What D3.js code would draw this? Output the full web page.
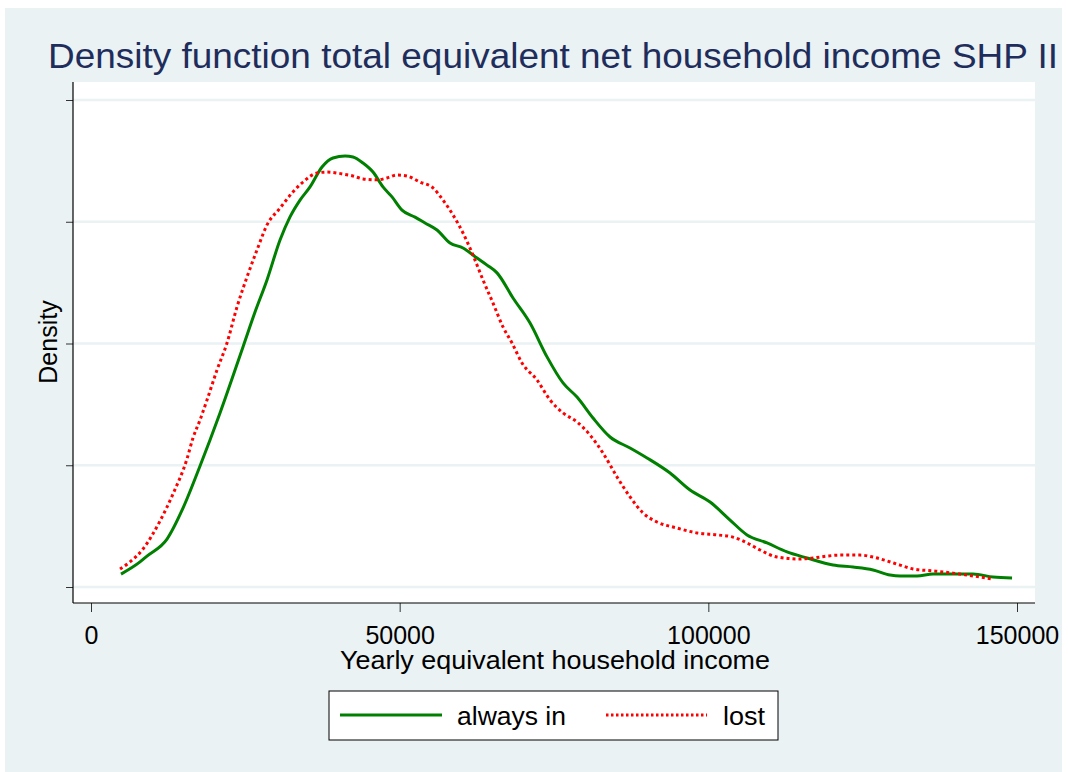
<!DOCTYPE html>
<html>
<head>
<meta charset="utf-8">
<script src="https://cdn.jsdelivr.net/npm/d3@7"></script>
<style>
  body { margin: 0; background: #fff; }
  text { font-family: "Liberation Sans", Arial, sans-serif; }
</style>
</head>
<body>
<svg width="1068" height="772"></svg>
<script>
// data (density in units of 1e-6)
var xTicks = [0, 50000, 100000, 150000];
var yTicks = [0, 5, 10, 15, 20];

var incomeAlways = [4860, 7940, 9070, 12310, 14900, 17660, 19280, 20900, 24620, 26570, 28510, 30620, 32240, 33860, 35480, 37420, 39200, 41150, 42440, 44060, 45680, 47300, 48760, 50380, 52490, 54110, 56050, 58160, 60260, 62530, 64150, 65770, 68360, 71120, 73870, 76460, 78730, 81320, 84080, 87320, 90070, 93800, 97040, 100280, 103520, 106270, 109510, 112750, 115990, 120200, 123440, 126680, 129440, 131060, 133810, 136400, 139640, 142880, 146120, 149200];
var densityAlways = [0.53, 1.03, 1.27, 1.97, 3.24, 4.97, 6.04, 7.15, 9.86, 11.29, 12.61, 14.25, 15.20, 15.89, 16.43, 17.25, 17.62, 17.70, 17.66, 17.41, 17.04, 16.43, 16.02, 15.48, 15.19, 14.95, 14.66, 14.13, 13.92, 13.51, 13.22, 12.90, 11.87, 10.84, 9.45, 8.38, 7.80, 6.94, 6.16, 5.71, 5.30, 4.68, 3.98, 3.49, 2.75, 2.14, 1.81, 1.44, 1.19, 0.90, 0.82, 0.70, 0.49, 0.45, 0.45, 0.53, 0.53, 0.53, 0.41, 0.37];

var incomeLost = [4700, 6320, 8420, 11180, 13280, 15550, 16520, 17660, 18790, 20410, 22030, 23650, 25270, 26890, 28510, 30620, 32560, 34340, 36610, 38230, 40820, 42440, 44060, 46330, 47950, 49570, 51190, 53300, 55400, 57020, 58640, 60260, 61880, 63500, 65120, 66740, 68200, 69820, 72250, 74360, 76460, 78730, 80840, 82940, 85210, 87320, 89420, 91690, 94930, 98170, 101410, 104000, 106270, 108380, 111130, 114860, 116960, 119230, 121340, 124580, 126680, 128950, 131060, 133160, 136400, 139640, 141910, 144020, 145960];
var densityLost = [0.74, 1.03, 1.56, 2.71, 3.82, 5.26, 6.12, 6.86, 7.68, 8.91, 10.02, 11.50, 12.73, 13.84, 14.87, 15.56, 16.18, 16.63, 17.00, 17.04, 16.96, 16.88, 16.76, 16.72, 16.80, 16.92, 16.88, 16.63, 16.39, 15.89, 15.28, 14.54, 13.63, 12.61, 11.66, 10.68, 10.02, 9.20, 8.50, 7.68, 7.15, 6.78, 6.24, 5.50, 4.52, 3.70, 3.04, 2.67, 2.42, 2.22, 2.14, 2.05, 1.81, 1.52, 1.23, 1.15, 1.19, 1.27, 1.31, 1.31, 1.23, 1.07, 0.90, 0.74, 0.66, 0.57, 0.49, 0.41, 0.33];

var seriesNames = ['always in', 'lost'];

var svg = d3.select('svg');

// plot box
var plotLeft = 73, plotRight = 1035, plotTop = 82, plotBottom = 603;

// graph region
svg.append('rect')
  .attr('x', 5).attr('y', 8)
  .attr('width', 1057).attr('height', 764)
  .attr('fill', '#eaf2f3');

svg.append('rect')
  .attr('x', plotLeft).attr('y', plotTop)
  .attr('width', plotRight - plotLeft).attr('height', plotBottom - plotTop)
  .attr('fill', '#fff');

var x = d3.scaleLinear().domain([0, 150000]).range([91, 1017]);
var y = d3.scaleLinear().domain([0, 20]).range([587, 100]);

// grid
svg.append('g').selectAll('line')
  .data(yTicks)
  .enter().append('line')
  .attr('x1', plotLeft).attr('x2', plotRight)
  .attr('y1', function(d){ return y(d); })
  .attr('y2', function(d){ return y(d); })
  .attr('stroke', '#eaf2f3')
  .attr('stroke-width', 2.5);

// axes
var yAxis = svg.append('g')
  .attr('transform', 'translate(' + plotLeft + ',0)')
  .call(d3.axisLeft(y).tickValues(yTicks).tickFormat('').tickSize(7).tickSizeOuter(0));
yAxis.select('.domain').remove();
yAxis.selectAll('line').attr('stroke', '#333');

var xAxis = svg.append('g')
  .attr('transform', 'translate(0,' + plotBottom + ')')
  .call(d3.axisBottom(x).tickValues(xTicks).tickFormat(d3.format('d')).tickSize(9).tickPadding(14).tickSizeOuter(0));
xAxis.select('.domain').remove();
xAxis.selectAll('line').attr('stroke', '#333');
xAxis.selectAll('text')
  .attr('fill', '#000')
  .style('font-size', '25px')
  .style('font-family', '"Liberation Sans", Arial, sans-serif');

svg.append('line')
  .attr('x1', plotLeft).attr('x2', plotLeft)
  .attr('y1', plotTop).attr('y2', plotBottom)
  .attr('stroke', '#000').attr('stroke-width', 1.2);
svg.append('line')
  .attr('x1', plotLeft).attr('x2', plotRight)
  .attr('y1', plotBottom).attr('y2', plotBottom)
  .attr('stroke', '#000').attr('stroke-width', 1.2);

// curves
var line = d3.line()
  .x(function(d){ return x(d[0]); })
  .y(function(d){ return y(d[1]); })
  .curve(d3.curveMonotoneX);

svg.append('path')
  .attr('d', line(d3.zip(incomeAlways, densityAlways)))
  .attr('fill', 'none')
  .attr('stroke', '#008000')
  .attr('stroke-width', 3);

svg.append('path')
  .attr('d', line(d3.zip(incomeLost, densityLost)))
  .attr('fill', 'none')
  .attr('stroke', '#ff0000')
  .attr('stroke-width', 3)
  .attr('stroke-dasharray', '3,3');

// titles
svg.append('text')
  .attr('x', 553).attr('y', 68)
  .attr('text-anchor', 'middle')
  .attr('textLength', 1010)
  .attr('lengthAdjust', 'spacingAndGlyphs')
  .attr('fill', '#1f2d5c')
  .style('font-size', '35px')
  .text('Density function total equivalent net household income SHP II');

svg.append('text')
  .attr('x', 555).attr('y', 669)
  .attr('text-anchor', 'middle')
  .attr('textLength', 430)
  .attr('lengthAdjust', 'spacingAndGlyphs')
  .style('font-size', '25px')
  .text('Yearly equivalent household income');

svg.append('text')
  .attr('transform', 'translate(57,342) rotate(-90)')
  .attr('text-anchor', 'middle')
  .style('font-size', '25px')
  .text('Density');

// legend
var legend = svg.append('g');
legend.append('rect')
  .attr('x', 329).attr('y', 691)
  .attr('width', 449).attr('height', 49)
  .attr('fill', '#fff')
  .attr('stroke', '#000')
  .attr('stroke-width', 1);

legend.append('line')
  .attr('x1', 340).attr('x2', 442).attr('y1', 715).attr('y2', 715)
  .attr('stroke', '#008000').attr('stroke-width', 3);
legend.append('text')
  .attr('x', 457).attr('y', 725)
  .attr('textLength', 109)
  .attr('lengthAdjust', 'spacingAndGlyphs')
  .style('font-size', '26px')
  .text(seriesNames[0]);

legend.append('line')
  .attr('x1', 606).attr('x2', 707).attr('y1', 715).attr('y2', 715)
  .attr('stroke', '#ff0000').attr('stroke-width', 3)
  .attr('stroke-dasharray', '2.5,2.5');
legend.append('text')
  .attr('x', 723).attr('y', 725)
  .attr('textLength', 42)
  .attr('lengthAdjust', 'spacingAndGlyphs')
  .style('font-size', '26px')
  .text(seriesNames[1]);
</script>
</body>
</html>
